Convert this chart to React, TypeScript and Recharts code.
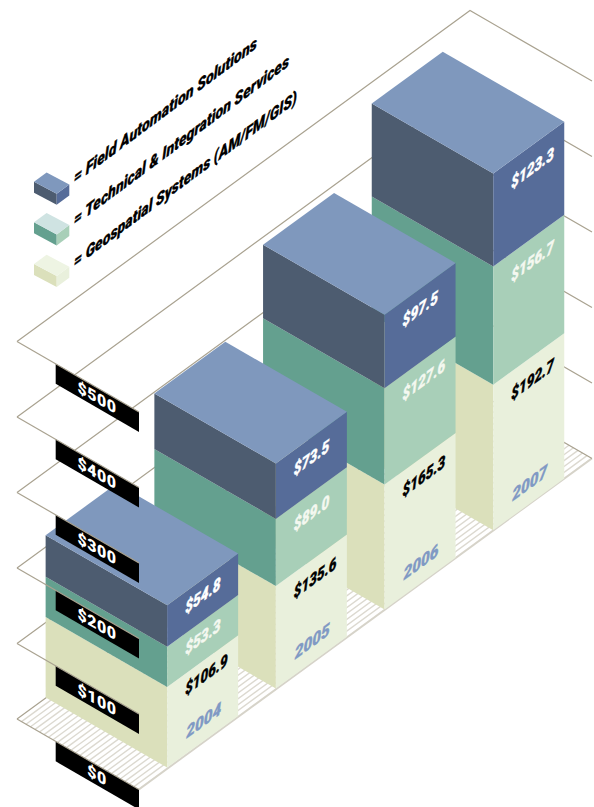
import React from "react";
import { ComposedChart, Bar, XAxis, YAxis, LabelList, Legend, CartesianGrid } from "recharts";

const years = ["2007", "2006", "2005", "2004"];
const geospatial = [192.7, 165.3, 135.6, 106.9];
const technical = [156.7, 127.6, 89.0, 53.3];
const fieldAutomation = [123.3, 97.5, 73.5, 54.8];
const dollarTicks = [0, 100, 200, 300, 400, 500];
const rows = years.map((year, i) => ({
  year,
  geospatial: geospatial[i],
  technical: technical[i],
  fieldAutomation: fieldAutomation[i],
}));

const FIELD = { top: "#7f98bd", left: "#4d5c70", right: "#566c99", legendTop: "#7f98bd" };
const TECH = { top: "#cfe3e2", left: "#64a08f", right: "#a8cfb8", legendTop: "#cfe3e2" };
const GEO = { top: "#eef4e3", left: "#dbe0bb", right: "#e9f0dc", legendTop: "#eef4e3" };
const LINE = "#a9a290";
const FLOOR_EDGE = "#d6d3c9";
const FONT = "Roboto, 'Liberation Sans', sans-serif";

// Isometric projection: axes of the floor, in screen pixels per bar footprint.
const DEPTH = { x: -121.5, y: -70 };
const SLOPE = -0.7277;
const FIRST_FRONT_X = 167;
const BAR_W = 71;
const PLANE_LEFT = 17;
const PLANE_DROP = -48.7;
const PLANE_FRONT = { x: 122, y: 70.5 };
const PLANE_BACK = { x: 453, y: -331 };
const ZERO_Y = 767.7;

const lift = (x: number) => SLOPE * (x - FIRST_FRONT_X);
const pts = (list: number[][]) => list.map((p) => p.join(",")).join(" ");

function prism(colors: typeof FIELD, capped: boolean) {
  return (props: any) => {
    const { x, y, width, height } = props;
    const s = lift(x);
    const top = y + s;
    const bot = y + height + s;
    const rise = SLOPE * width;
    return (
      <g>
        <polygon
          fill={colors.left}
          points={pts([[x, top], [x, bot], [x + DEPTH.x, bot + DEPTH.y], [x + DEPTH.x, top + DEPTH.y]])}
        />
        <polygon
          fill={colors.right}
          points={pts([[x, top], [x, bot], [x + width, bot + rise], [x + width, top + rise]])}
        />
        {capped && (
          <polygon
            fill={colors.top}
            points={pts([
              [x, top],
              [x + width, top + rise],
              [x + width + DEPTH.x, top + rise + DEPTH.y],
              [x + DEPTH.x, top + DEPTH.y],
            ])}
          />
        )}
      </g>
    );
  };
}

// Value printed on the right-hand face, sheared to follow the face's slope.
const valueDrop: Record<string, number> = { "2004": 22, "2005": 26, "2006": 26, "2007": 29 };
function faceValue(fill: string) {
  return (props: any) => {
    const { x, y, index, value } = props;
    const text = "$" + Number(value).toFixed(1);
    const drop = valueDrop[years[index]];
    const tx = x + 18;
    const ty = y + lift(x) + SLOPE * 18 + drop;
    return (
      <text
        transform={`matrix(1 ${SLOPE} 0 1 ${tx} ${ty})`}
        fill={fill}
        stroke={fill}
        strokeWidth={0.35}
        fontFamily={FONT}
        fontWeight={900}
        fontStyle="italic"
        fontSize={17}
        textLength={text.length * 7.1}
        lengthAdjust="spacingAndGlyphs"
      >
        {text}
      </text>
    );
  };
}

function yearOnFace(props: any) {
  const { x, y, height, value } = props;
  const tx = x + 19;
  const ty = y + height + lift(x) + SLOPE * 19 - 15;
  return (
    <text
      transform={`matrix(1 ${SLOPE} 0 1 ${tx} ${ty})`}
      fill="#8099c4"
      stroke="#8099c4"
      strokeWidth={0.3}
      fontFamily={FONT}
      fontWeight={900}
      fontStyle="italic"
      fontSize={17}
      textLength={35}
      lengthAdjust="spacingAndGlyphs"
    >
      {value}
    </text>
  );
}

// One dollar level of the grid: back and right edges of its plane.
// The lowest level also carries the hatched floor.
function PlaneLine(props: any) {
  const y = props.y1;
  const isFloor = Math.abs(y - ZERO_Y) < 1;
  const ly = y + PLANE_DROP;
  const back = [PLANE_LEFT + PLANE_BACK.x, ly + PLANE_BACK.y];
  const right = [back[0] + PLANE_FRONT.x, back[1] + PLANE_FRONT.y];
  const hatch: React.ReactNode[] = [];
  if (isFloor) {
    for (let k = 1; k * 4.5 < PLANE_FRONT.x; k++) {
      const hx = PLANE_LEFT + k * 4.5;
      const hy = ly + (k * 4.5 * PLANE_FRONT.y) / PLANE_FRONT.x;
      hatch.push(
        <line key={k} x1={hx} y1={hy} x2={hx + PLANE_BACK.x} y2={hy + PLANE_BACK.y} stroke="#dcd9d0" strokeWidth={1.4} />
      );
    }
  }
  return (
    <g key={y}>
      {hatch}
      {isFloor && (
        <line
          x1={PLANE_LEFT + PLANE_FRONT.x}
          y1={ly + PLANE_FRONT.y}
          x2={right[0]}
          y2={right[1]}
          stroke={FLOOR_EDGE}
          strokeWidth={1.6}
        />
      )}
      <polyline points={pts([[PLANE_LEFT, ly], back, right])} fill="none" stroke={LINE} strokeWidth={1.2} />
    </g>
  );
}

// Front-left edge of each plane with its black dollar tag, drawn over the bars.
function TagTick(props: any) {
  const { y, payload } = props;
  const ly = y + PLANE_DROP;
  const m = PLANE_FRONT.y / PLANE_FRONT.x;
  const x0 = 55.7;
  const x1 = PLANE_LEFT + PLANE_FRONT.x;
  const y0 = ly + (x0 - PLANE_LEFT) * m;
  const y1 = ly + PLANE_FRONT.y;
  const tx = 97;
  const ty = ly + (tx - PLANE_LEFT) * m + 15.5;
  return (
    <g>
      <polygon fill="#000" points={pts([[x0, y0], [x1, y1], [x1, y1 + 20], [x0, y0 + 20]])} />
      <line x1={PLANE_LEFT} y1={ly} x2={x1} y2={y1} stroke={LINE} strokeWidth={1.2} />
      <text
        transform={`matrix(1 ${m} 0 1 ${tx} ${ty})`}
        textAnchor="middle"
        fill="#fff"
        fontFamily={FONT}
        fontWeight={900}
        fontSize={16}
        letterSpacing={0.5}
      >
        {"$" + payload.value}
      </text>
    </g>
  );
}

const legendRows = [
  { dataKey: "fieldAutomation", colors: FIELD, label: "= Field Automation Solutions", leftY: 181.7, textY: 184, span: 183 },
  { dataKey: "technical", colors: TECH, label: "= Technical & Integration Services", leftY: 222.3, textY: 226, span: 215 },
  { dataKey: "geospatial", colors: GEO, label: "= Geospatial Systems (AM/FM/GIS)", leftY: 264, textY: 268, span: 223 },
];

function IsoLegend() {
  return (
    <svg width={320} height={300} style={{ position: "absolute", left: 0, top: 0, overflow: "visible" }}>
      {legendRows.map((row) => {
        const x = 34;
        const y = row.leftY;
        const f = [x + 22.7, y + 12.1];
        const r = [x + 35.3, y + 2.8];
        const b = [x + 12.6, y - 9.3];
        const h = 11;
        return (
          <g key={row.dataKey}>
            <polygon fill={row.colors.left} points={pts([[x, y], f, [f[0], f[1] + h], [x, y + h]])} />
            <polygon fill={row.colors.right} points={pts([f, r, [r[0], r[1] + h], [f[0], f[1] + h]])} />
            <polygon fill={row.colors.legendTop} points={pts([[x, y], b, r, f])} />
            <text
              transform={`matrix(1 ${-0.745} 0 1 74 ${row.textY})`}
              fontFamily={FONT}
              fontWeight={900}
              fontStyle="italic"
              fontSize={17}
              fill="#000"
              stroke="#000"
              strokeWidth={0.3}
              textLength={row.span}
              lengthAdjust="spacingAndGlyphs"
            >
              {row.label}
            </text>
          </g>
        );
      })}
    </svg>
  );
}

export default function App() {
  return (
    <div style={{ position: "absolute", left: 0, top: 0, width: 594, height: 807, overflow: "hidden", background: "#fff" }}>
      <ComposedChart
        width={594}
        height={807}
        data={rows}
        barSize={BAR_W}
        margin={{ top: 390.2, bottom: 39.3, left: 147.15, right: 11.05 }}
      >
        <CartesianGrid vertical={false} horizontal={PlaneLine} horizontalValues={dollarTicks} />
        <XAxis dataKey="year" reversed hide />
        <YAxis
          orientation="left"
          width={1}
          domain={[0, 500]}
          ticks={dollarTicks}
          axisLine={false}
          tickLine={false}
          tick={TagTick}
          interval={0}
        />
        <Legend content={IsoLegend} wrapperStyle={{ left: 0, top: 0, width: 0, height: 0 }} />
        <Bar dataKey="geospatial" name="Geospatial Systems (AM/FM/GIS)" stackId="a" isAnimationActive={false} shape={prism(GEO, false)}>
          <LabelList dataKey="geospatial" content={faceValue("#000")} />
          <LabelList dataKey="year" content={yearOnFace} />
        </Bar>
        <Bar dataKey="technical" name="Technical & Integration Services" stackId="a" isAnimationActive={false} shape={prism(TECH, false)}>
          <LabelList dataKey="technical" content={faceValue("#f4f8f0")} />
        </Bar>
        <Bar dataKey="fieldAutomation" name="Field Automation Solutions" stackId="a" isAnimationActive={false} shape={prism(FIELD, true)}>
          <LabelList dataKey="fieldAutomation" content={faceValue("#fff")} />
        </Bar>
      </ComposedChart>
    </div>
  );
}
